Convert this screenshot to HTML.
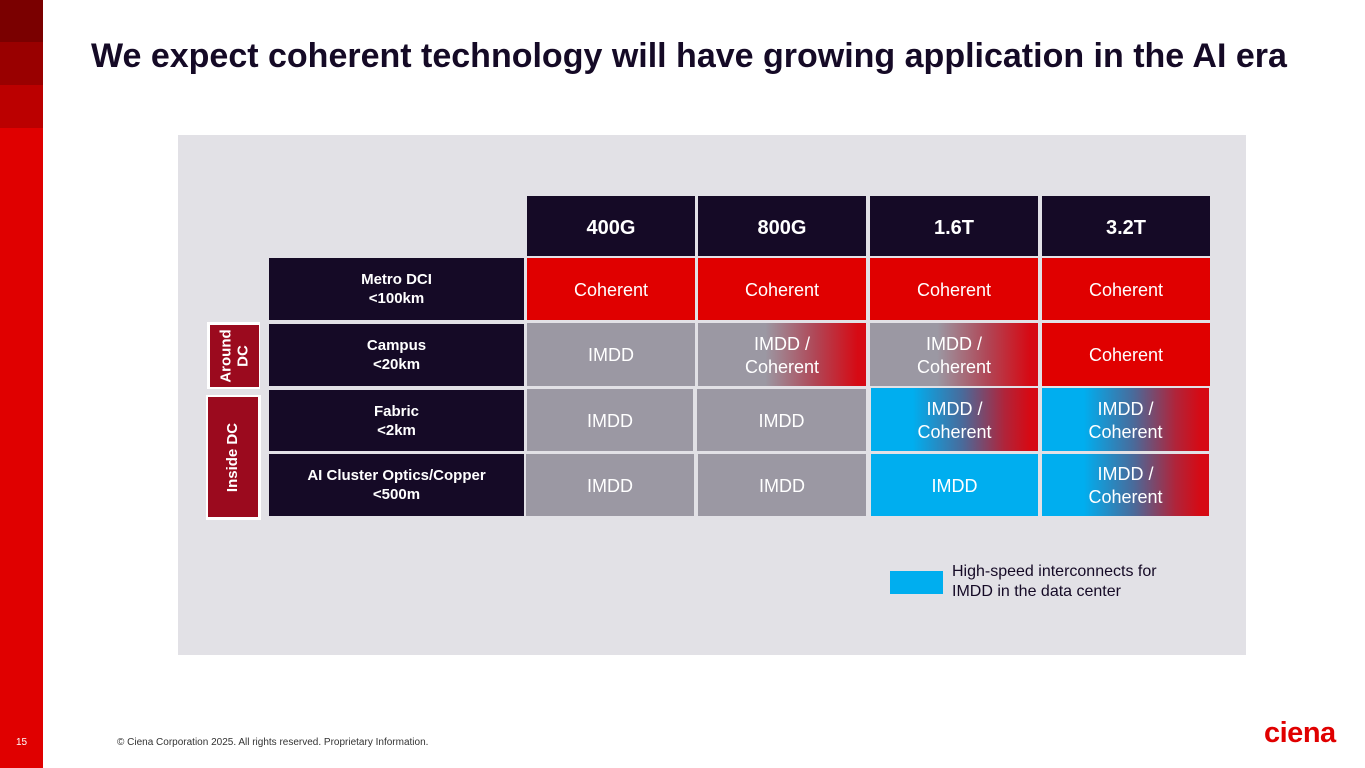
<!DOCTYPE html>
<html><head><meta charset="utf-8"><style>
body{margin:0;width:1365px;height:768px;position:relative;background:#fff;font-family:"Liberation Sans",Arial,sans-serif;overflow:hidden}
.a{position:absolute}
.c{position:absolute;display:flex;align-items:center;justify-content:center;text-align:center;color:#fff;box-sizing:border-box;line-height:23px}
.h{background:#150a26;font-weight:bold;font-size:20px;padding-top:4px}
.r{background:#150a26;font-weight:bold;font-size:15px;line-height:19px}
.red{background:#e00000;font-size:18px;padding-top:2px}
.gr{background:#9b98a3;font-size:18px;padding-top:2px}
.bl{background:#00aeef;font-size:18px;padding-top:2px}
.gg{background:linear-gradient(90deg,#9b98a3 0%,#9b98a3 40%,#b04656 70%,#d60a14 95%);font-size:18px;padding-top:2px}
.bg{background:linear-gradient(90deg,#00aeef 0%,#00aeef 25%,#4a6a9a 55%,#b0243a 80%,#d60a14 95%);font-size:18px;padding-top:2px}
</style></head><body>
<div class="a" style="left:0;top:0;width:43px;height:768px;background:#e00000"></div>
<div class="a" style="left:0;top:0;width:43px;height:42px;background:#7a0000"></div>
<div class="a" style="left:0;top:42px;width:43px;height:43px;background:#990000"></div>
<div class="a" style="left:0;top:85px;width:43px;height:43px;background:#bb0000"></div>
<div class="a" style="left:91px;top:37px;font-size:34px;font-weight:bold;color:#150a26;white-space:nowrap">We expect coherent technology will have growing application in the AI era</div>
<div class="a" style="left:178px;top:135px;width:1068px;height:520px;background:#e2e1e6"></div>

<div class="c h" style="left:527px;top:196px;width:168px;height:60px">400G</div>
<div class="c h" style="left:698px;top:196px;width:168px;height:60px">800G</div>
<div class="c h" style="left:870px;top:196px;width:168px;height:60px">1.6T</div>
<div class="c h" style="left:1042px;top:196px;width:168px;height:60px">3.2T</div>

<div class="c r" style="left:269px;top:258px;width:255px;height:62px">Metro DCI<br>&lt;100km</div>
<div class="c r" style="left:269px;top:324px;width:255px;height:62px">Campus<br>&lt;20km</div>
<div class="c r" style="left:269px;top:390px;width:255px;height:61px">Fabric<br>&lt;2km</div>
<div class="c r" style="left:269px;top:454px;width:255px;height:62px">AI Cluster Optics/Copper<br>&lt;500m</div>

<div class="c red" style="left:527px;top:258px;width:168px;height:62px">Coherent</div>
<div class="c red" style="left:698px;top:258px;width:168px;height:62px">Coherent</div>
<div class="c red" style="left:870px;top:258px;width:168px;height:62px">Coherent</div>
<div class="c red" style="left:1042px;top:258px;width:168px;height:62px">Coherent</div>

<div class="c gr" style="left:527px;top:323px;width:168px;height:63px">IMDD</div>
<div class="c gg" style="left:698px;top:323px;width:168px;height:63px">IMDD /<br>Coherent</div>
<div class="c gg" style="left:870px;top:323px;width:168px;height:63px">IMDD /<br>Coherent</div>
<div class="c red" style="left:1042px;top:323px;width:168px;height:63px">Coherent</div>

<div class="c gr" style="left:527px;top:389px;width:166px;height:62px">IMDD</div>
<div class="c gr" style="left:697px;top:389px;width:169px;height:62px">IMDD</div>
<div class="c bg" style="left:871px;top:388px;width:167px;height:63px">IMDD /<br>Coherent</div>
<div class="c bg" style="left:1042px;top:388px;width:167px;height:63px">IMDD /<br>Coherent</div>

<div class="c gr" style="left:526px;top:454px;width:168px;height:62px">IMDD</div>
<div class="c gr" style="left:698px;top:454px;width:168px;height:62px">IMDD</div>
<div class="c bl" style="left:871px;top:454px;width:167px;height:62px">IMDD</div>
<div class="c bg" style="left:1042px;top:454px;width:167px;height:62px">IMDD /<br>Coherent</div>

<div class="a" style="left:207px;top:322px;width:53px;height:67px;background:#fff"></div>
<div class="c" style="left:210px;top:325px;width:49px;height:62px;background:#9b0a1e;font-weight:bold;font-size:15px;line-height:17px"><span style="transform:rotate(-90deg);display:block;white-space:nowrap">Around<br>DC</span></div>
<div class="a" style="left:206px;top:395px;width:55px;height:125px;background:#fff"></div>
<div class="c" style="left:208px;top:397px;width:50px;height:120px;background:#9b0a1e;font-weight:bold;font-size:15px"><span style="transform:rotate(-90deg);display:block;white-space:nowrap">Inside DC</span></div>

<div class="a" style="left:890px;top:571px;width:53px;height:23px;background:#00aeef"></div>
<div class="a" style="left:952px;top:562px;font-size:16px;line-height:20px;color:#150a26">High-speed interconnects for<br>IMDD in the data center</div>

<div class="a" style="left:16px;top:737px;font-size:10px;color:#fff">15</div>
<div class="a" style="left:117px;top:737px;font-size:10px;color:#333">© Ciena Corporation 2025. All rights reserved. Proprietary Information.</div>
<div class="a" style="left:1264px;top:717px;font-size:29px;font-weight:bold;color:#e00000;letter-spacing:-0.5px">ciena</div>
</body></html>
